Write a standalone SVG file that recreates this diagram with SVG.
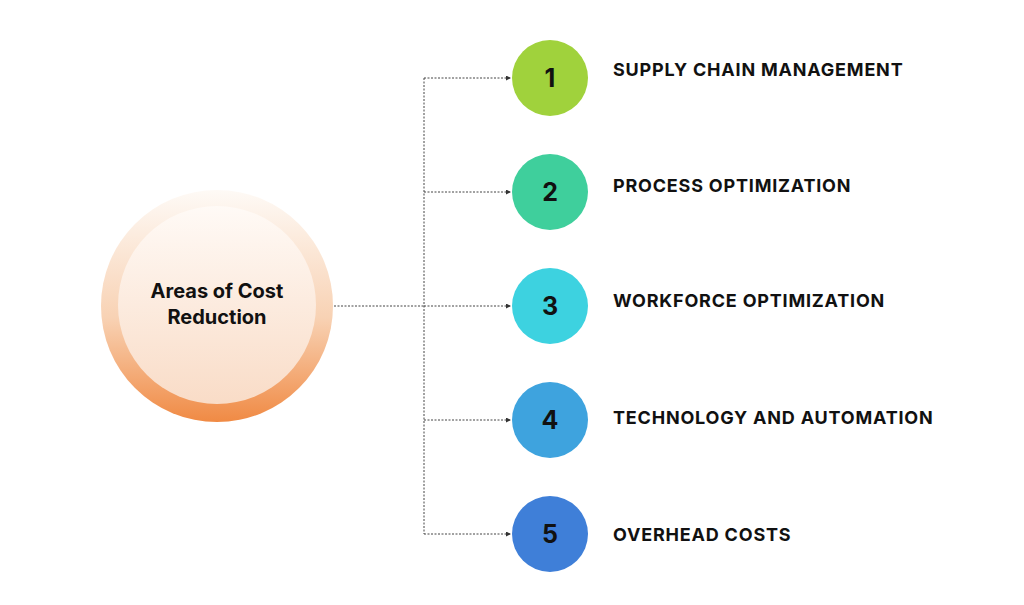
<svg xmlns="http://www.w3.org/2000/svg" width="1024" height="605" viewBox="0 0 1024 605">
<defs>
<linearGradient id="go" x1="0" y1="0" x2="0" y2="1"><stop offset="0" stop-color="#fefaf6"/><stop offset="0.55" stop-color="#f8d2b4"/><stop offset="1" stop-color="#f08a44"/></linearGradient>
<linearGradient id="gi" x1="0" y1="0" x2="0" y2="1"><stop offset="0" stop-color="#fffaf6"/><stop offset="1" stop-color="#f9dcc7"/></linearGradient>
<marker id="ah" viewBox="0 0 6 6" refX="6" refY="3" markerWidth="5" markerHeight="5" orient="auto"><path d="M0,0L6,3L0,6z" fill="#333"/></marker>
<style>
.c{stroke:#444;stroke-width:1;stroke-dasharray:2,1.5;fill:none}
.n{font-family:Inter,"Liberation Sans",sans-serif;font-weight:700;font-size:25px;fill:#111;text-anchor:middle}
.l{font-family:Inter,"Liberation Sans",sans-serif;font-weight:700;font-size:18px;fill:#111;letter-spacing:0.8px}
.m{font-family:Inter,"Liberation Sans",sans-serif;font-weight:700;font-size:20px;fill:#111;text-anchor:middle}
</style>
</defs>
<rect width="1024" height="605" fill="#fff"/>
<g id="connectors">
<path class="c" d="M334,306H424M424,78V534"/>
<path class="c" marker-end="url(#ah)" d="M424,78H511"/>
<path class="c" marker-end="url(#ah)" d="M424,192H511"/>
<path class="c" marker-end="url(#ah)" d="M424,306H511"/>
<path class="c" marker-end="url(#ah)" d="M424,420H511"/>
<path class="c" marker-end="url(#ah)" d="M424,534H511"/>
</g>
<g id="center">
<circle cx="217" cy="306" r="116" fill="url(#go)"/>
<circle cx="217" cy="305" r="99" fill="url(#gi)"/>
<text class="m" x="217" y="298">Areas of Cost</text>
<text class="m" x="217" y="324">Reduction</text>
</g>
<g id="n1"><circle cx="550" cy="78" r="38" fill="#a0d23c"/><text class="n" x="550" y="87">1</text><text class="l" x="613" y="76">SUPPLY CHAIN MANAGEMENT</text></g>
<g id="n2"><circle cx="550" cy="192" r="38" fill="#3fcf9c"/><text class="n" x="550" y="201">2</text><text class="l" x="613" y="192">PROCESS OPTIMIZATION</text></g>
<g id="n3"><circle cx="550" cy="306" r="38" fill="#3dd2e0"/><text class="n" x="550" y="315">3</text><text class="l" x="613" y="307">WORKFORCE OPTIMIZATION</text></g>
<g id="n4"><circle cx="550" cy="420" r="38" fill="#3ea3de"/><text class="n" x="550" y="429">4</text><text class="l" x="613" y="424">TECHNOLOGY AND AUTOMATION</text></g>
<g id="n5"><circle cx="550" cy="534" r="38" fill="#3f7fd8"/><text class="n" x="550" y="543">5</text><text class="l" x="613" y="541">OVERHEAD COSTS</text></g>
</svg>
